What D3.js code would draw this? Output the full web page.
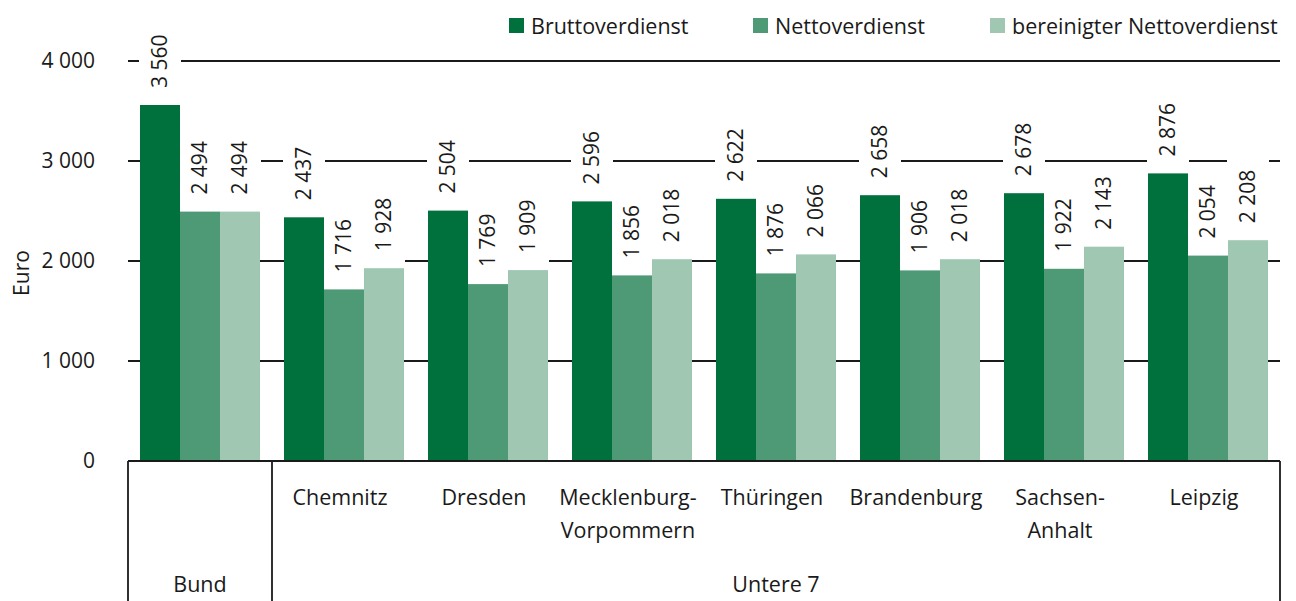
<!DOCTYPE html>
<html>
<head>
<meta charset="utf-8">
<script src="https://cdn.jsdelivr.net/npm/d3@7/dist/d3.min.js"></script>
<style>
  html, body { margin: 0; padding: 0; background: #fff; }
  svg { display: block; font-family: "Open Sans", "Noto Sans", sans-serif; }
</style>
</head>
<body>
<svg id="chart" width="1296" height="601"></svg>
<script>
// ---- data ----
const categories = ["Bund", "Chemnitz", "Dresden", "Mecklenburg-\nVorpommern", "Thüringen", "Brandenburg", "Sachsen-\nAnhalt", "Leipzig"];
const seriesNames = ["Bruttoverdienst", "Nettoverdienst", "bereinigter Nettoverdienst"];
const brutto = [3560, 2437, 2504, 2596, 2622, 2658, 2678, 2876];
const netto = [2494, 1716, 1769, 1856, 1876, 1906, 1922, 2054];
const bereinigt = [2494, 1928, 1909, 2018, 2066, 2018, 2143, 2208];
const yTicks = [0, 1000, 2000, 3000, 4000];
const groupLabels = [{name: "Bund", from: 0, to: 0}, {name: "Untere 7", from: 1, to: 7}];
const colors = ["#00703c", "#4e9a77", "#a0c7b2"];

const seriesValues = [brutto, netto, bereinigt];

const svg = d3.select("#chart");
const left = 128, right = 1280, top0 = 61, base = 461;
const textColor = "#1a1a1a";
const fmt = v => d3.format(",")(v).replace(/,/g, " ");

const y = d3.scaleLinear().domain([0, 4000]).range([base, top0]);
const x0 = d3.scaleBand().domain(d3.range(categories.length)).range([left, right]).paddingInner(0).paddingOuter(0);
const x1 = d3.scaleBand().domain(d3.range(3)).range([12, x0.bandwidth() - 12]).padding(0);

// gridlines
svg.append("g").selectAll("line").data(yTicks.filter(t => t > 0)).join("line")
  .attr("x1", left).attr("x2", right)
  .attr("y1", d => y(d)).attr("y2", d => y(d))
  .attr("stroke", "#1a1a1a").attr("stroke-width", 1.8);

// y tick labels
svg.append("g").selectAll("text").data(yTicks).join("text")
  .attr("x", 95).attr("y", d => y(d)).attr("dy", "0.35em")
  .attr("text-anchor", "end").attr("font-size", 21).attr("fill", textColor)
  .text(d => fmt(d));

// y axis title
svg.append("text")
  .attr("transform", "translate(29,273) rotate(-90)")
  .attr("text-anchor", "middle").attr("font-size", 21).attr("fill", textColor)
  .text("Euro");

// label boxes (under bars), then bars, then label texts
const boxLayer = svg.append("g");
const barLayer = svg.append("g");
const textLayer = svg.append("g");

categories.forEach((cat, i) => {
  seriesValues.forEach((vals, s) => {
    const bx = x0(i) + x1(s);
    const cx = bx + x1.bandwidth() / 2;
    const yb = y(vals[i]) - 17;
    barLayer.append("rect")
      .attr("x", bx).attr("width", x1.bandwidth())
      .attr("y", y(vals[i])).attr("height", base - y(vals[i]))
      .attr("fill", colors[s]);
    const g = textLayer.append("g").attr("transform", `translate(${cx},${yb}) rotate(-90)`);
    const t = g.append("text").attr("x", 0).attr("y", 0).attr("dy", "0.35em")
      .attr("font-size", 21).attr("fill", textColor).attr("text-anchor", "start")
      .text(fmt(vals[i]));
    const bb = t.node().getBBox();
    boxLayer.append("rect").attr("fill", "#fff")
      .attr("x", cx - 21).attr("width", 42)
      .attr("y", yb - bb.width - 11).attr("height", bb.width + 22);
  });
});

// x axis baseline and separators
svg.append("line").attr("x1", left).attr("x2", right).attr("y1", base).attr("y2", base)
  .attr("stroke", "#1a1a1a").attr("stroke-width", 1.8);
const sepIdx = [0, 1, categories.length];
svg.append("g").selectAll("line").data(sepIdx).join("line")
  .attr("x1", d => d === categories.length ? right : x0(d))
  .attr("x2", d => d === categories.length ? right : x0(d))
  .attr("y1", base).attr("y2", 601)
  .attr("stroke", "#1a1a1a").attr("stroke-width", 1.8);

// category labels (except Bund)
categories.forEach((cat, i) => {
  if (i === 0) return;
  const lines = cat.split("\n");
  const t = svg.append("text").attr("text-anchor", "middle").attr("font-size", 21.5).attr("fill", textColor);
  lines.forEach((ln, k) => {
    t.append("tspan").attr("x", x0(i) + x0.bandwidth() / 2 - 4).attr("y", 505 + k * 33).text(ln);
  });
});

// group labels
groupLabels.forEach(gl => {
  const a = x0(gl.from), b = x0(gl.to) + x0.bandwidth();
  svg.append("text").attr("x", (a + b) / 2).attr("y", 592)
    .attr("text-anchor", "middle").attr("font-size", 21.5).attr("fill", textColor).text(gl.name);
});

// legend
const legendX = [509, 753, 990];
seriesNames.forEach((n, s) => {
  svg.append("rect").attr("x", legendX[s]).attr("y", 18).attr("width", 15).attr("height", 15).attr("fill", colors[s]);
  svg.append("text").attr("x", legendX[s] + 22).attr("y", 26).attr("dy", "0.35em")
    .attr("font-size", 21.5).attr("fill", textColor).text(n);
});
</script>
</body>
</html>
